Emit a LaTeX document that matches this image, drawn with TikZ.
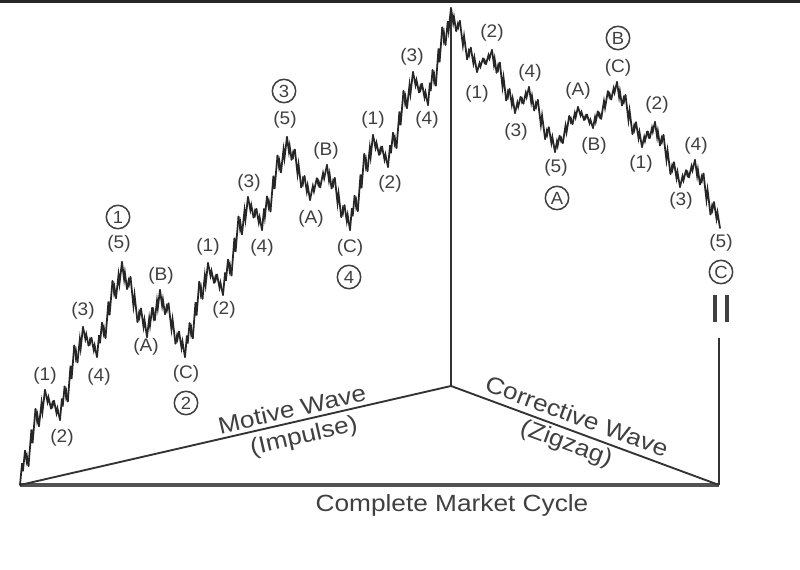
\documentclass[tikz,border=0pt]{standalone}
\usepackage{fontspec}
\setmainfont{Liberation Sans}
\newfontfamily\bigfont{Liberation Sans}[FakeStretch=1.12]
\newfontfamily\lblfont{Liberation Sans}[FakeStretch=1.05]
\newcommand\zig[4]{\draw[wave] (#1,#2) -- ({#1+0.42*(#3-#1)},{#2+0.64*(#4-#2)}) -- ({#1+0.58*(#3-#1)},{#2+0.40*(#4-#2)}) -- (#3,#4);}
\newcommand\legI[4]{%
  \pgfmathsetmacro\wxa{#1+0.2*(#3-#1)}\pgfmathsetmacro\wya{#2+0.36*(#4-#2)}%
  \pgfmathsetmacro\wxb{#1+0.34*(#3-#1)}\pgfmathsetmacro\wyb{#2+0.2*(#4-#2)}%
  \pgfmathsetmacro\wxc{#1+0.62*(#3-#1)}\pgfmathsetmacro\wyc{#2+0.8*(#4-#2)}%
  \pgfmathsetmacro\wxd{#1+0.76*(#3-#1)}\pgfmathsetmacro\wyd{#2+0.62*(#4-#2)}%
  \zig{#1}{#2}{\wxa}{\wya}\zig{\wxa}{\wya}{\wxb}{\wyb}\zig{\wxb}{\wyb}{\wxc}{\wyc}%
  \zig{\wxc}{\wyc}{\wxd}{\wyd}\zig{\wxd}{\wyd}{#3}{#4}}
\newcommand\legC[4]{%
  \pgfmathsetmacro\wxa{#1+0.4*(#3-#1)}\pgfmathsetmacro\wya{#2+0.62*(#4-#2)}%
  \pgfmathsetmacro\wxb{#1+0.6*(#3-#1)}\pgfmathsetmacro\wyb{#2+0.36*(#4-#2)}%
  \zig{#1}{#2}{\wxa}{\wya}\zig{\wxa}{\wya}{\wxb}{\wyb}\zig{\wxb}{\wyb}{#3}{#4}}
\begin{document}
\begin{tikzpicture}[x=0.03cm,y=-0.03cm,
  wave/.style={line width=1.5pt, draw=black!85, line join=miter, line cap=round},
  leg/.style={line width=1.6pt, draw=black!80},
  base/.style={line width=2.6pt, draw=black!68},
  lbl/.style={font=\lblfont\fontsize{15.5}{15.5}\selectfont, text=black!75, inner sep=0pt},
  circ/.style={circle, draw=black!75, line width=1.3pt, minimum size=20pt, inner sep=0pt, font=\lblfont\fontsize{15}{15}\selectfont, text=black!75},
  big/.style={font=\bigfont\fontsize{20}{20}\selectfont, text=black!75, inner sep=1pt},
]
\fill[white] (0,0) rectangle (800,570);
\useasboundingbox (0,0) rectangle (800,570);
\fill[black!85] (0,0) rectangle (800,3);

% structure
\coordinate (L) at (20,485);
\coordinate (R) at (719,485);
\coordinate (T) at (451,386);
\coordinate (top) at (451,10);
\coordinate (vb) at (719,338);
\draw[base] (L) -- (R);
\draw[leg] (L) -- (T) -- (R);
\draw[leg] (T) -- (top);
\draw[leg] (vb) -- (R);
\node[big, rotate=12.94] (mw) at (292,409) {Motive Wave};
\node[big, rotate=12.94] (imp) at (304,437) {(Impulse)};
\node[big, rotate=-20.27] (cw) at (577,416) {Corrective Wave};
\node[big, rotate=-20.27] (zz) at (566,444) {(Zigzag)};
\node[big, anchor=base] (cmc) at (452,512) {Complete Market Cycle};

% wave: 1
\legI{20}{485}{45}{390}
\legC{45}{390}{60}{420}
\legI{60}{420}{83}{327}
\legC{83}{327}{97}{357}
\legI{97}{357}{122}{262}
% 2
\legI{122}{262}{147}{337}
\legC{147}{337}{160}{290}
\legI{160}{290}{185}{357}
% 3
\legI{185}{357}{208}{263}
\legC{208}{263}{223}{295}
\legI{223}{295}{248}{197}
\legC{248}{197}{262}{230}
\legI{262}{230}{287}{137}
% 4
\legI{287}{137}{310}{200}
\legC{310}{200}{327}{165}
\legI{327}{165}{350}{230}
% 5
\legI{350}{230}{373}{135}
\legC{373}{135}{388}{167}
\legI{388}{167}{413}{72}
\legC{413}{72}{428}{105}
\legI{428}{105}{451}{8}
% A
\legI{451}{8}{477}{72}
\legC{477}{72}{492}{50}
\legI{492}{50}{515}{113}
\legC{515}{113}{529}{87}
\legI{529}{87}{555}{152}
% B
\legI{555}{152}{578}{107}
\legC{578}{107}{593}{128}
\legI{593}{128}{617}{82}
% C
\legI{617}{82}{642}{147}
\legC{642}{147}{655}{122}
\legI{655}{122}{680}{187}
\legC{680}{187}{695}{160}
\legI{695}{160}{720}{228}

% labels, motive part
\node[lbl] (a1) at (45,376) {(1)};
\node[lbl] (a2) at (62,438) {(2)};
\node[lbl] (a3) at (83,311) {(3)};
\node[lbl] (a4) at (99,377) {(4)};
\node[lbl] (a5) at (119,244) {(5)};
\node[circ] (c1) at (118,217) {1};
\node[lbl] (b2) at (161,276) {(B)};
\node[lbl] (b1) at (146,347) {(A)};
\node[lbl] (b3) at (186,374) {(C)};
\node[circ] (c2) at (186,403) {2};
\node[lbl] (d1) at (208,247) {(1)};
\node[lbl] (d2) at (224,310) {(2)};
\node[lbl] (d3) at (249,183) {(3)};
\node[lbl] (d4) at (262,248) {(4)};
\node[lbl] (d5) at (285,120) {(5)};
\node[circ] (c3) at (284,91) {3};
\node[lbl] (e2) at (326,151) {(B)};
\node[lbl] (e1) at (311,219) {(A)};
\node[lbl] (e3) at (350,248) {(C)};
\node[circ] (c4) at (349,277) {4};
\node[lbl] (f1) at (373,120) {(1)};
\node[lbl] (f2) at (390,184) {(2)};
\node[lbl] (f3) at (412,57) {(3)};
\node[lbl] (f4) at (427,120) {(4)};

% labels, corrective part
\node[lbl] (g2) at (492,33) {(2)};
\node[lbl] (g1) at (477,94) {(1)};
\node[lbl] (g4) at (530,73) {(4)};
\node[lbl] (g3) at (516,132) {(3)};
\node[lbl] (g5) at (556,168) {(5)};
\node[circ] (cA) at (557,198) {A};
\node[lbl] (h1) at (578,91) {(A)};
\node[lbl] (h2) at (594,146) {(B)};
\node[lbl] (h3) at (618,68) {(C)};
\node[circ] (cB) at (618,38) {B};
\node[lbl] (k2) at (657,105) {(2)};
\node[lbl] (k1) at (641,164) {(1)};
\node[lbl] (k4) at (696,146) {(4)};
\node[lbl] (k3) at (681,201) {(3)};
\node[lbl] (k5) at (721,243) {(5)};
\node[circ] (cC) at (721,272) {C};

% break mark
\draw[line width=2.8pt, black!75] (715,295) -- (715,322);
\draw[line width=2.8pt, black!75] (727,295) -- (727,322);
\end{tikzpicture}
\end{document}
